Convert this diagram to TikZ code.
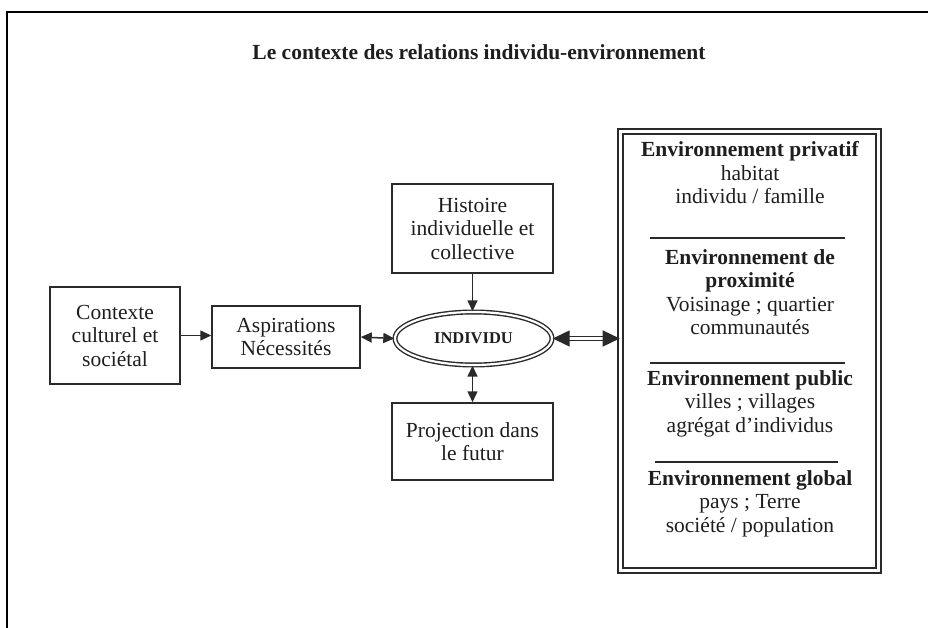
\documentclass[tikz,border=0pt]{standalone}
\usepackage{fontspec}
\setmainfont{Liberation Serif}
\usetikzlibrary{arrows.meta,shapes.geometric}
\definecolor{ink}{HTML}{2A2A2A}
\definecolor{txt}{HTML}{1E1E1E}
\begin{document}
\begin{tikzpicture}[x=1pt,y=-1pt,
  box/.style={draw=ink, line width=1.5pt, inner sep=0pt, align=center, text=txt,
    font=\fontsize{21.5}{23.5}\selectfont},
  sect/.style={align=center, text=txt, inner sep=0pt, font=\fontsize{21.5}{23.5}\selectfont},
  tip/.tip={Triangle[length=11pt,width=10pt]},
  arr/.style={draw=ink, line width=1.5pt, -tip},
  darr/.style={draw=ink, line width=1.5pt, tip-tip},
  sep/.style={draw=ink, line width=1.1pt}]
\useasboundingbox (0,0) rectangle (928,628);
\fill[white] (0,0) rectangle (928,628);
% outer frame
\draw[black, line width=2pt] (7,640) -- (7,12) -- (940,12);
% title
\node[text=txt, font=\fontsize{21.5}{24}\selectfont\bfseries] (title) at (479,52)
  {Le contexte des relations individu-environnement};
% boxes
\node[box, minimum width=130pt, minimum height=97pt] (ctx) at (115,335.5)
  {Contexte\\culturel et\\sociétal};
\node[box, minimum width=148pt, minimum height=62pt] (asp) at (286,337)
  {Aspirations\\Nécessités};
\node[box, minimum width=161pt, minimum height=89pt] (hist) at (472.5,228.5)
  {Histoire\\individuelle et\\collective};
\node[box, minimum width=161pt, minimum height=77pt] (proj) at (472.5,441.5)
  {Projection dans\\le futur};
\node[ellipse, draw=ink, line width=1.4pt, double=white, double distance=2.2pt,
  minimum width=157pt, minimum height=53pt, inner sep=0pt, text=txt,
  font=\fontsize{16.5}{20}\selectfont\bfseries] (ind) at (473.5,338.5) {INDIVIDU};
% environment box
\node[draw=ink, line width=1.6pt, double=white, double distance=3pt,
  minimum width=258pt, minimum height=439pt, inner sep=0pt] (env) at (749.5,351) {};
\node[sect] (s1) at (750,173) {\textbf{Environnement privatif}\\habitat\\individu / famille};
\node[sect] (s2) at (750,292) {\textbf{Environnement de}\\\textbf{proximité}\\Voisinage ; quartier\\communautés};
\node[sect] (s3) at (750,403.5) {\textbf{Environnement public}\\villes ; villages\\agrégat d’individus};
\node[sect] (s4) at (750,503.5) {\textbf{Environnement global}\\pays ; Terre\\société / population};
\draw[sep] (650,238) -- (845,238);
\draw[sep] (650,363) -- (845,363);
\draw[sep] (655,462) -- (838,462);
% connectors
\draw[arr] (ctx.east) -- (ctx.east -| asp.west);
\draw[darr] (asp.east) -- (ind.west);
\draw[arr] (hist.south) -- (hist.south |- ind.north);
\draw[darr] (proj.north) -- (proj.north |- ind.south);
\draw[draw=ink, line width=1.4pt, double=white, double distance=2.6pt,
  {Triangle[length=17pt,width=16pt]}-{Triangle[length=17pt,width=16pt]}]
  (ind.east) -- (ind.east -| env.west);
\end{tikzpicture}
\end{document}
